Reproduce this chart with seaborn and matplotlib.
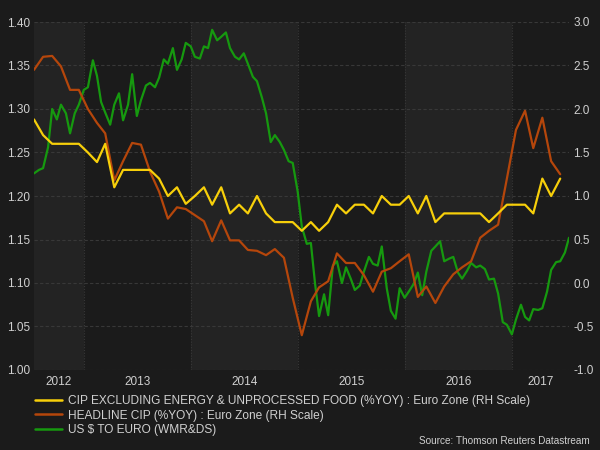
import matplotlib
matplotlib.use("Agg")
import matplotlib.pyplot as plt
import matplotlib.dates as mdates
from matplotlib.lines import Line2D
from matplotlib.ticker import FixedLocator, FormatStrFormatter
import numpy as np
import pandas as pd
import seaborn as sns

# ---------------- data ----------------
cpi_start = "2012-07-01"          # monthly, Jul 2012 .. Jun 2017
core_cpi = [1.88, 1.70, 1.60, 1.60, 1.60, 1.60, 1.50, 1.39, 1.60, 1.10, 1.30, 1.30,
            1.30, 1.30, 1.20, 1.00, 1.10, 0.91, 1.00, 1.10, 0.90, 1.10, 0.80, 0.90,
            0.80, 1.00, 0.80, 0.70, 0.70, 0.70, 0.60, 0.70, 0.60, 0.70, 0.90, 0.80,
            0.90, 0.90, 0.80, 1.00, 0.90, 0.90, 1.00, 0.80, 1.00, 0.70, 0.80, 0.80,
            0.80, 0.80, 0.80, 0.70, 0.80, 0.90, 0.90, 0.90, 0.80, 1.20, 1.00, 1.20]
headline_cpi = [2.45, 2.60, 2.61, 2.49, 2.22, 2.22, 2.00, 1.84, 1.72, 1.18, 1.40, 1.61,
                1.59, 1.28, 1.05, 0.74, 0.87, 0.85, 0.78, 0.71, 0.48, 0.72, 0.49, 0.49,
                0.38, 0.37, 0.32, 0.39, 0.29, -0.17, -0.60, -0.21, -0.05, 0.02, 0.34, 0.23,
                0.23, 0.09, -0.10, 0.13, 0.17, 0.25, 0.33, -0.16, -0.04, -0.23, -0.04, 0.10,
                0.18, 0.25, 0.52, 0.60, 0.67, 1.20, 1.76, 1.98, 1.55, 1.90, 1.40, 1.25]

usd_start, usd_end = "2012-07-15", "2017-07-15"   # 1st and 15th of each month
usd_eur = [1.226, 1.230, 1.232, 1.256, 1.300, 1.288, 1.305, 1.295, 1.272, 1.295, 1.305,
           1.322, 1.325, 1.356, 1.338, 1.308, 1.296, 1.282, 1.305, 1.318, 1.287, 1.305,
           1.340, 1.292, 1.310, 1.327, 1.330, 1.325, 1.336, 1.357, 1.352, 1.370, 1.345,
           1.357, 1.376, 1.372, 1.360, 1.358, 1.372, 1.370, 1.391, 1.379, 1.383, 1.388,
           1.370, 1.360, 1.357, 1.364, 1.352, 1.337, 1.332, 1.313, 1.295, 1.262, 1.270,
           1.262, 1.253, 1.240, 1.238, 1.205, 1.165, 1.145, 1.146, 1.100, 1.062, 1.087,
           1.063, 1.120, 1.125, 1.100, 1.118, 1.105, 1.092, 1.097, 1.113, 1.130, 1.122,
           1.120, 1.142, 1.094, 1.068, 1.059, 1.094, 1.083, 1.090, 1.099, 1.112, 1.086,
           1.113, 1.137, 1.142, 1.148, 1.125, 1.128, 1.130, 1.112, 1.105, 1.114, 1.123,
           1.118, 1.120, 1.116, 1.104, 1.105, 1.088, 1.055, 1.052, 1.041, 1.058, 1.075,
           1.061, 1.057, 1.070, 1.069, 1.071, 1.090, 1.115, 1.124, 1.125, 1.135, 1.152]

labels = ["CIP EXCLUDING ENERGY & UNPROCESSED FOOD (%YOY) : Euro Zone (RH Scale)",
          "HEADLINE CIP (%YOY) : Euro Zone (RH Scale)",
          "US $ TO EURO (WMR&DS)"]
colors = ["#f7cf0a", "#b5460b", "#16990f"]
left_ticks = [1.00, 1.05, 1.10, 1.15, 1.20, 1.25, 1.30, 1.35, 1.40]
right_ticks = [-1.0, -0.5, 0.0, 0.5, 1.0, 1.5, 2.0, 2.5, 3.0]
years = [2012, 2013, 2014, 2015, 2016, 2017]
source = "Source: Thomson Reuters Datastream"

# ---------------- frames ----------------
cpi_dates = pd.date_range(cpi_start, periods=len(core_cpi), freq="MS") + pd.Timedelta(days=14)
cpi_df = pd.DataFrame({"date": cpi_dates, "core": core_cpi, "headline": headline_cpi})
usd_dates = pd.date_range(usd_start, usd_end, freq="SMS")
usd_df = pd.DataFrame({"date": usd_dates[:len(usd_eur)], "usd": usd_eur})

# ---------------- style ----------------
sns.set_theme(style="dark")
BG = "#1b1b1b"
BAND = "#232323"
GRID = "#383838"
TXT = "#d0d0d0"
plt.rcParams["font.family"] = ["Liberation Sans", "DejaVu Sans"]

fig = plt.figure(figsize=(6, 4.5), dpi=100, facecolor=BG)
ax = fig.add_axes([34 / 600, 1 - 370 / 450, 535 / 600, 348 / 450])
ax.set_facecolor(BG)
x0, x1 = pd.Timestamp("2012-07-15"), pd.Timestamp("2017-07-15")

# alternating year bands
for i, y in enumerate(years):
    a = max(pd.Timestamp(f"{y}-01-01"), x0)
    b = min(pd.Timestamp(f"{y + 1}-01-01"), x1)
    if i % 2 == 0:
        ax.axvspan(a, b, color=BAND, zorder=0, lw=0)
    if y > years[0]:
        ax.axvline(pd.Timestamp(f"{y}-01-01"), color=GRID, lw=0.8, ls=(0, (1, 1.5)), zorder=1)

for v in left_ticks:
    ax.axhline(v, color=GRID, lw=0.8, ls=(0, (3, 2)), zorder=1)

sns.lineplot(data=usd_df, x="date", y="usd", ax=ax, color=colors[2], lw=1.6, zorder=3)
ax.set_ylim(1.0, 1.4)
ax.set_xlim(x0, x1)
ax.yaxis.set_major_locator(FixedLocator(left_ticks))
ax.yaxis.set_major_formatter(FormatStrFormatter("%.2f"))

# year labels centred in their visible span
centers = []
for y in years:
    a = max(pd.Timestamp(f"{y}-01-01"), x0)
    b = min(pd.Timestamp(f"{y + 1}-01-01"), x1)
    centers.append(mdates.date2num(a) + (mdates.date2num(b) - mdates.date2num(a)) / 2)
ax.xaxis.set_major_locator(FixedLocator(centers))
ax.set_xticklabels([str(y) for y in years])

ax2 = ax.twinx()
ax2.patch.set_visible(False)
sns.lineplot(data=cpi_df, x="date", y="headline", ax=ax2, color=colors[1], lw=1.6, zorder=3)
sns.lineplot(data=cpi_df, x="date", y="core", ax=ax2, color=colors[0], lw=1.6, zorder=4)
ax2.set_ylim(-1.0, 3.0)
ax2.set_xlim(x0, x1)
ax2.yaxis.set_major_locator(FixedLocator(right_ticks))
ax2.yaxis.set_major_formatter(FormatStrFormatter("%.1f"))

for a_ in (ax, ax2):
    a_.set_xlabel("")
    a_.set_ylabel("")
    a_.grid(False)
    for s in a_.spines.values():
        s.set_visible(False)
    a_.tick_params(axis="both", length=0, labelsize=8.5, labelcolor=TXT, pad=3)
ax.tick_params(axis="x", pad=4)

handles = [Line2D([0], [0], color=c, lw=1.8) for c in colors]
fig.legend(handles, labels, loc="upper left", bbox_to_anchor=(35 / 600, 1 - 395 / 450),
           frameon=False, fontsize=8.6, labelcolor=TXT, handlelength=2.3,
           handletextpad=0.45, labelspacing=0.22, borderpad=0, borderaxespad=0)
fig.text(590 / 600, 1 - 441 / 450, source, ha="right", va="center", fontsize=7.2, color=TXT)

fig.savefig("out.png", dpi=100, facecolor=BG)
